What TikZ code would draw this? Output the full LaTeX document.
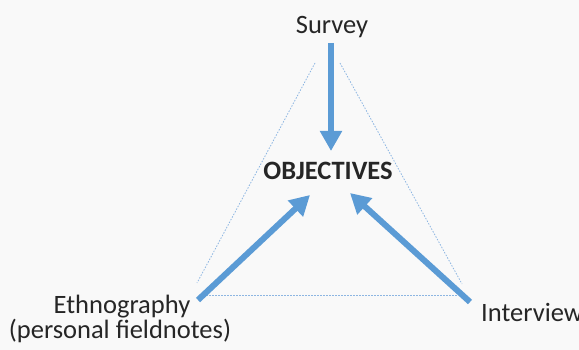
\documentclass[tikz,border=0pt]{standalone}
\usepackage{fontspec}
\setmainfont{Carlito}
\usetikzlibrary{arrows.meta}
\definecolor{arrowblue}{HTML}{5B9BD5}
\definecolor{dotblue}{HTML}{8DB6E2}
\definecolor{bggray}{HTML}{F9F9F9}
\definecolor{txt}{HTML}{262626}
\tikzset{
  lbl/.style={font=\fontsize{26.5}{31}\selectfont, text=txt, inner sep=0pt, anchor=base},
  bigarrow/.style={draw=arrowblue, line width=6pt, -{Triangle[width=21pt,length=20pt]}},
  dotline/.style={draw=dotblue, dash pattern=on 1.5pt off 1.5pt, line width=0.8pt}
}
\begin{document}
\begin{tikzpicture}[x=1pt,y=-1pt]
\fill[bggray] (0,0) rectangle (579,350);
\useasboundingbox (0,0) rectangle (579,350);
% texts
\node[lbl] (survey) at (332,34) {Survey};
\node[lbl, font=\fontsize{26.5}{31}\selectfont\bfseries] (obj) at (328,180) {OBJECTIVES};
\node[lbl] (eth) at (122,313) {Ethnography};
\node[lbl] (eth2) at (120,338) {(personal fieldnotes)};
\node[lbl, anchor=base west] (int) at (481,321) {Interview};
% dotted triangle
\coordinate (tl1) at (315,63);
\coordinate (tl2) at (197,283);
\coordinate (tr1) at (340,63);
\coordinate (tr2) at (462,284);
\coordinate (b1) at (206,295);
\coordinate (b2) at (458,295);
\draw[dotline] (tl1) -- (tl2);
\draw[dotline] (tr1) -- (tr2);
\draw[dotline] (b1) -- (b2);
% arrows
\coordinate (sA) at (331,43);
\coordinate (sB) at (331,151);
\coordinate (eA) at (198,300);
\coordinate (eB) at (310,195);
\coordinate (iA) at (470,302);
\coordinate (iB) at (350,193);
\draw[bigarrow] (sA) -- (sB);
\draw[bigarrow] (eA) -- (eB);
\draw[bigarrow] (iA) -- (iB);
\end{tikzpicture}
\end{document}
